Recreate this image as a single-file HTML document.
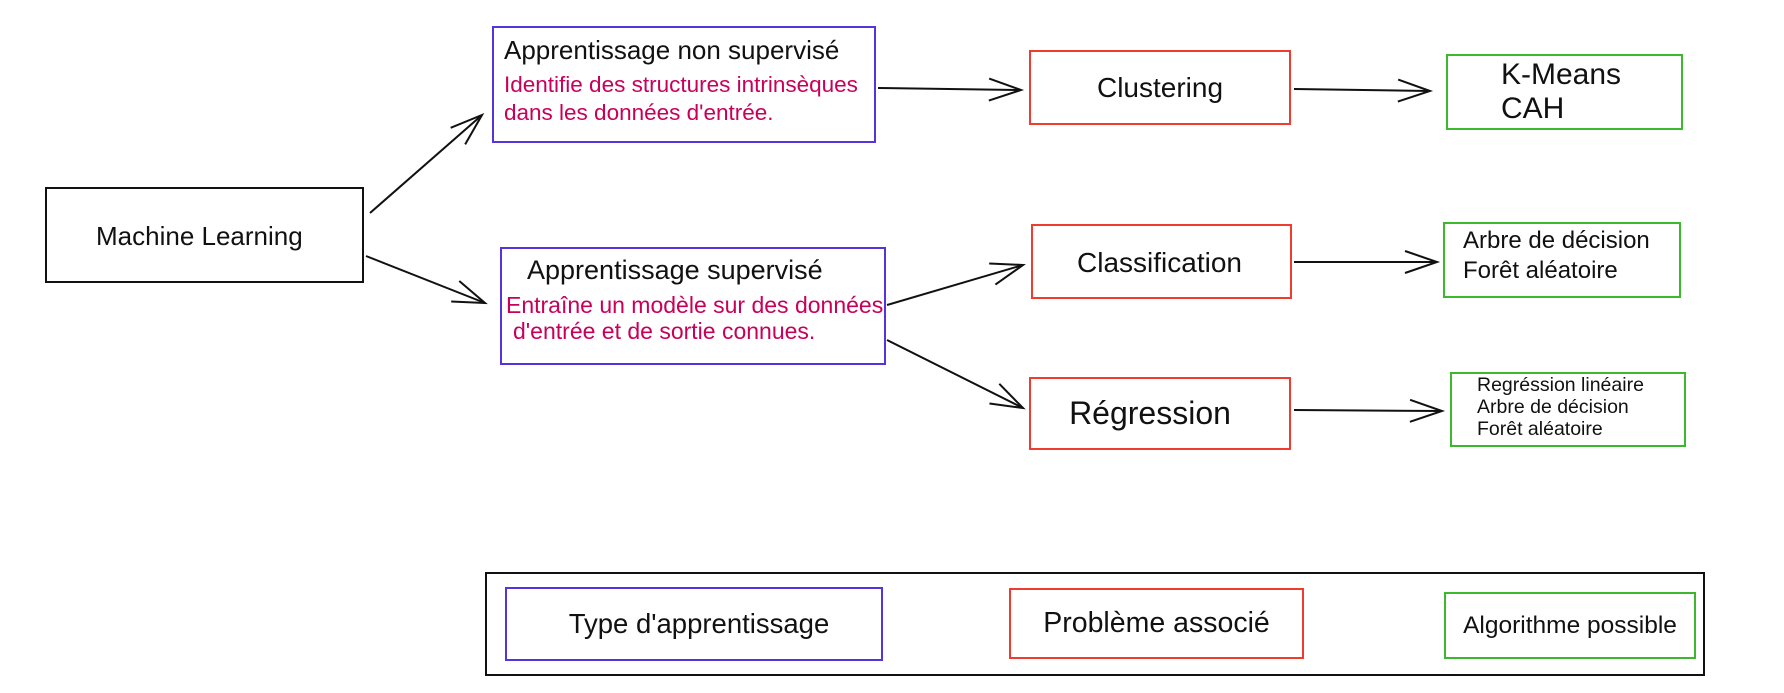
<!DOCTYPE html>
<html><head><meta charset="utf-8"><style>
html,body{margin:0;padding:0;background:#fff;}
body{width:1784px;height:693px;position:relative;overflow:hidden;font-family:"Liberation Sans",sans-serif;color:#111;}
.t{position:absolute;white-space:nowrap;line-height:1;}
.m{color:#c8005a;}
</style></head><body>
<svg width="1784" height="693" style="position:absolute;left:0;top:0">
<defs>
<marker id="a" markerUnits="userSpaceOnUse" markerWidth="40" markerHeight="40" refX="36" refY="20" orient="auto">
<path d="M4,9 L36,20 L4,31" fill="none" stroke="#111" stroke-width="2"/>
</marker>
</defs>
<g fill="none" stroke-width="2">
<rect x="46" y="188" width="317" height="94" stroke="#111"/>
<rect x="493" y="27" width="382" height="115" stroke="#5533dd"/>
<rect x="501" y="248" width="384" height="116" stroke="#5533dd"/>
<rect x="1030" y="51" width="260" height="73" stroke="#f03c2e"/>
<rect x="1032" y="225" width="259" height="73" stroke="#f03c2e"/>
<rect x="1030" y="378" width="260" height="71" stroke="#f03c2e"/>
<rect x="1447" y="55" width="235" height="74" stroke="#3cb82e"/>
<rect x="1444" y="223" width="236" height="74" stroke="#3cb82e"/>
<rect x="1451" y="373" width="234" height="73" stroke="#3cb82e"/>
<rect x="486" y="573" width="1218" height="102" stroke="#111"/>
<rect x="506" y="588" width="376" height="72" stroke="#5533dd"/>
<rect x="1010" y="589" width="293" height="69" stroke="#f03c2e"/>
<rect x="1445" y="593" width="250" height="65" stroke="#3cb82e"/>
</g>
<g stroke="#111" stroke-width="2" marker-end="url(#a)">
<line x1="370" y1="213" x2="482" y2="115"/>
<line x1="366" y1="256" x2="485" y2="303"/>
<line x1="878" y1="88" x2="1021" y2="90"/>
<line x1="887" y1="305" x2="1023" y2="265"/>
<line x1="887" y1="340" x2="1023" y2="408"/>
<line x1="1294" y1="89" x2="1430" y2="91"/>
<line x1="1294" y1="262" x2="1437" y2="262"/>
<line x1="1294" y1="410" x2="1442" y2="411"/>
</g>
</svg>
<div class="t" style="left:96px;top:223px;font-size:26px">Machine Learning</div>
<div class="t" style="left:504px;top:37px;font-size:26px">Apprentissage non supervisé</div>
<div class="t m" style="left:504px;top:74px;font-size:22.5px">Identifie des structures intrinsèques</div>
<div class="t m" style="left:504px;top:102px;font-size:22.5px">dans les données d'entrée.</div>
<div class="t" style="left:527px;top:257px;font-size:27px">Apprentissage supervisé</div>
<div class="t m" style="left:506px;top:294px;font-size:23px">Entraîne un modèle sur des données</div>
<div class="t m" style="left:513px;top:320px;font-size:23px">d'entrée et de sortie connues.</div>
<div class="t" style="left:1030px;width:260px;text-align:center;top:74px;font-size:28px">Clustering</div>
<div class="t" style="left:1030px;width:259px;text-align:center;top:249px;font-size:28px">Classification</div>
<div class="t" style="left:1030px;width:240px;text-align:center;top:397px;font-size:32px">Régression</div>
<div class="t" style="left:1501px;top:60px;font-size:30px">K-Means</div>
<div class="t" style="left:1501px;top:94px;font-size:30px">CAH</div>
<div class="t" style="left:1463px;top:229px;font-size:24px">Arbre de décision</div>
<div class="t" style="left:1463px;top:259px;font-size:24px">Forêt aléatoire</div>
<div class="t" style="left:1477px;top:376px;font-size:19.5px">Regréssion linéaire</div>
<div class="t" style="left:1477px;top:398px;font-size:19.5px">Arbre de décision</div>
<div class="t" style="left:1477px;top:420px;font-size:19.5px">Forêt aléatoire</div>
<div class="t" style="left:511px;width:376px;text-align:center;top:610px;font-size:27.5px">Type d'apprentissage</div>
<div class="t" style="left:1010px;width:293px;text-align:center;top:609px;font-size:28.5px">Problème associé</div>
<div class="t" style="left:1445px;width:250px;text-align:center;top:614px;font-size:24.5px">Algorithme possible</div>
</body></html>
